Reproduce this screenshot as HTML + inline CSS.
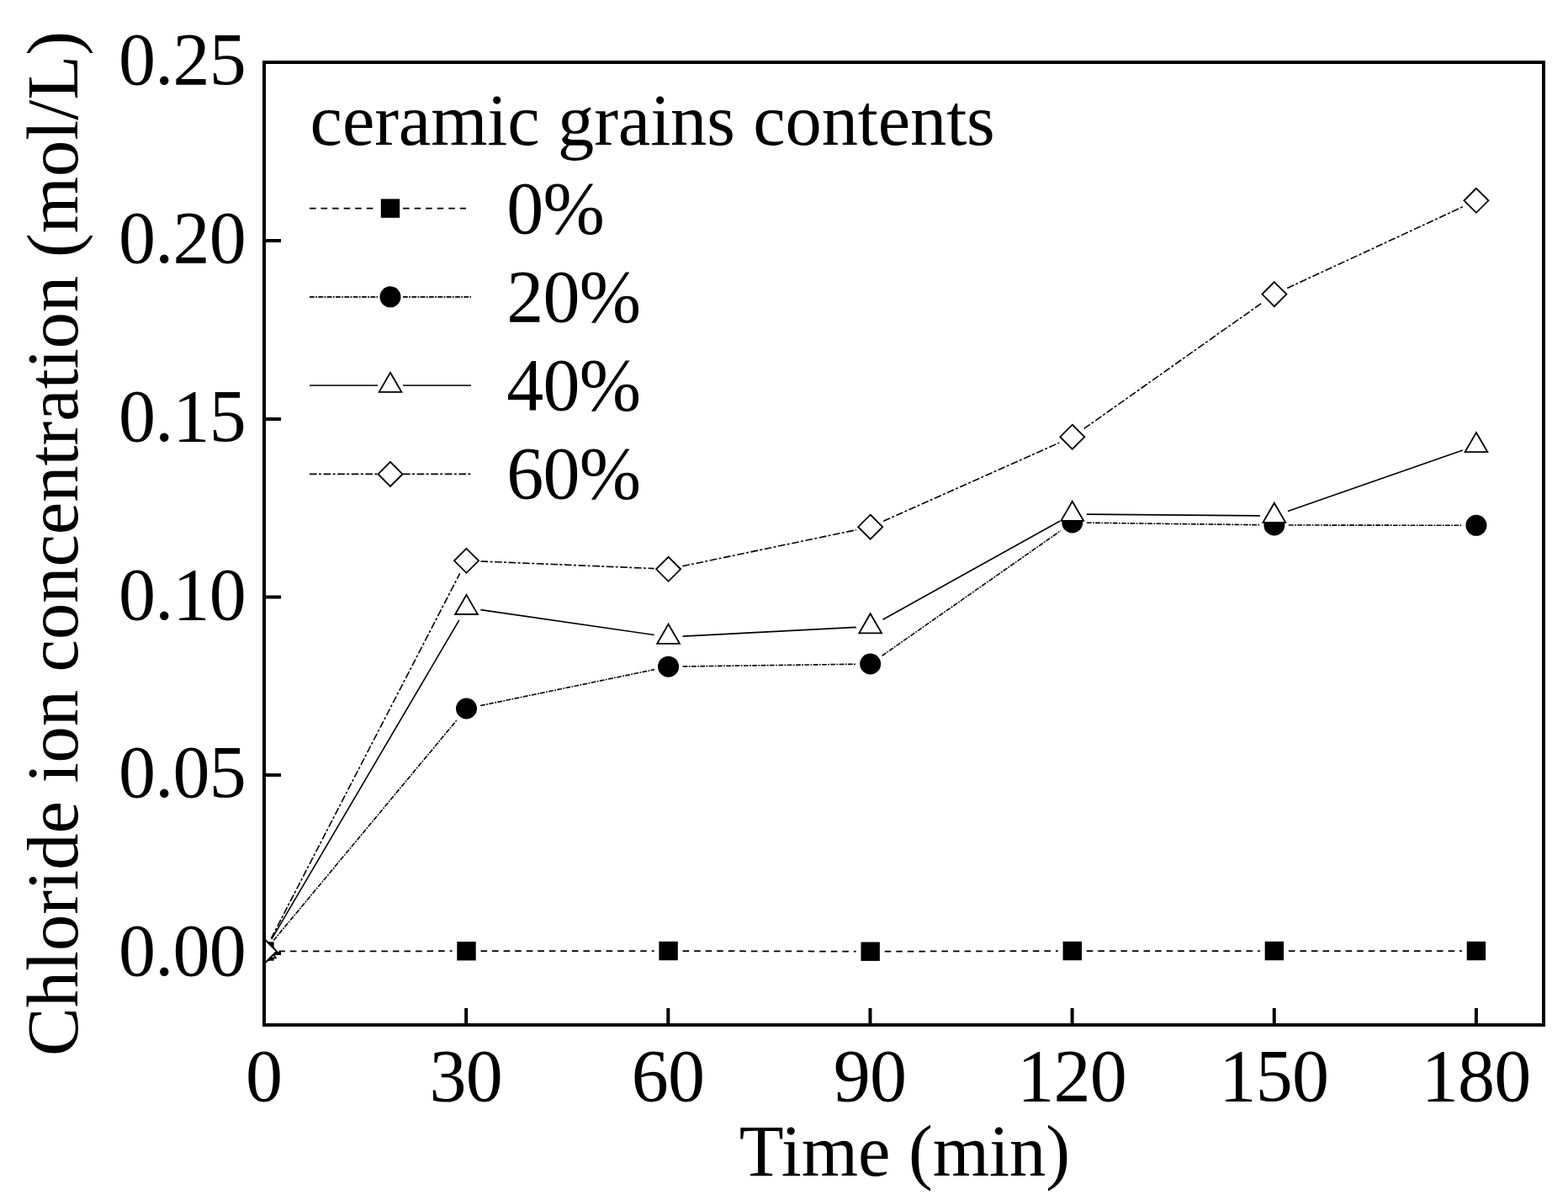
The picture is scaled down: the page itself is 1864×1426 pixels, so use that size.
<!DOCTYPE html>
<html lang="en">
<head>
<meta charset="utf-8">
<title>Chloride ion concentration vs time</title>
<style>
html,body{margin:0;padding:0;background:#fff;}
body{width:1864px;height:1426px;overflow:hidden;}
svg{display:block;}
text{font-family:"Liberation Serif", serif;font-size:86.5px;fill:#000;}
text.d{font-size:88px;letter-spacing:-0.75px;}
</style>
</head>
<body>
<svg width="1864" height="1426" viewBox="0 0 1864 1426">
<rect x="0" y="0" width="1864" height="1426" fill="#fff"/>
<defs><clipPath id="plot"><rect x="316" y="74" width="1519" height="1144"/></clipPath></defs>

<g stroke="#000" stroke-width="4" fill="none">
<line x1="314" y1="286" x2="334" y2="286"/>
<line x1="314" y1="498" x2="334" y2="498"/>
<line x1="314" y1="709.5" x2="334" y2="709.5"/>
<line x1="314" y1="921" x2="334" y2="921"/>
<line x1="314" y1="1133" x2="334" y2="1133"/>
<line x1="554.15" y1="1218" x2="554.15" y2="1198"/>
<line x1="794.30" y1="1218" x2="794.30" y2="1198"/>
<line x1="1034.45" y1="1218" x2="1034.45" y2="1198"/>
<line x1="1274.60" y1="1218" x2="1274.60" y2="1198"/>
<line x1="1514.75" y1="1218" x2="1514.75" y2="1198"/>
<line x1="1754.90" y1="1218" x2="1754.90" y2="1198"/>
</g>
<g clip-path="url(#plot)" stroke="#000" stroke-width="1.6" fill="none">
<line x1="331.40" y1="1130.48" x2="537.49" y2="1130.22" stroke-dasharray="7.6 5.95" stroke-width="1.75"/>
<line x1="571.49" y1="1130.19" x2="777.58" y2="1130.01" stroke-dasharray="7.6 5.95" stroke-width="1.75"/>
<line x1="811.58" y1="1130.05" x2="1017.67" y2="1130.65" stroke-dasharray="7.6 5.95" stroke-width="1.75"/>
<line x1="1051.67" y1="1130.65" x2="1257.76" y2="1130.05" stroke-dasharray="7.6 5.95" stroke-width="1.75"/>
<line x1="1291.76" y1="1130.00" x2="1497.85" y2="1130.00" stroke-dasharray="7.6 5.95" stroke-width="1.75"/>
<line x1="1531.85" y1="1130.00" x2="1737.94" y2="1130.00" stroke-dasharray="7.6 5.95" stroke-width="1.75"/>
<rect x="303.20" y="1119.30" width="22.4" height="22.4" fill="#000" stroke="none"/>
<rect x="543.29" y="1119.00" width="22.4" height="22.4" fill="#000" stroke="none"/>
<rect x="783.38" y="1118.80" width="22.4" height="22.4" fill="#000" stroke="none"/>
<rect x="1023.47" y="1119.50" width="22.4" height="22.4" fill="#000" stroke="none"/>
<rect x="1263.56" y="1118.80" width="22.4" height="22.4" fill="#000" stroke="none"/>
<rect x="1503.65" y="1118.80" width="22.4" height="22.4" fill="#000" stroke="none"/>
<rect x="1743.74" y="1118.80" width="22.4" height="22.4" fill="#000" stroke="none"/>
<line x1="325.27" y1="1117.43" x2="543.62" y2="855.07" stroke-dasharray="5.8 1.37 1.8 1.37"/>
<line x1="571.14" y1="838.55" x2="777.93" y2="795.65" stroke-dasharray="5.8 1.37 1.8 1.37"/>
<line x1="811.58" y1="791.97" x2="1017.67" y2="789.23" stroke-dasharray="5.8 1.37 1.8 1.37"/>
<line x1="1048.60" y1="779.25" x2="1260.83" y2="630.75" stroke-dasharray="5.8 1.37 1.8 1.37"/>
<line x1="1291.76" y1="621.21" x2="1497.85" y2="623.79" stroke-dasharray="5.8 1.37 1.8 1.37"/>
<line x1="1531.85" y1="624.02" x2="1737.94" y2="624.28" stroke-dasharray="5.8 1.37 1.8 1.37"/>
<circle cx="314.40" cy="1130.50" r="12.5" fill="#000" stroke="none"/>
<circle cx="554.49" cy="842.00" r="12.5" fill="#000" stroke="none"/>
<circle cx="794.58" cy="792.20" r="12.5" fill="#000" stroke="none"/>
<circle cx="1034.67" cy="789.00" r="12.5" fill="#000" stroke="none"/>
<circle cx="1274.76" cy="621.00" r="12.5" fill="#000" stroke="none"/>
<circle cx="1514.85" cy="624.00" r="12.5" fill="#000" stroke="none"/>
<circle cx="1754.94" cy="624.30" r="12.5" fill="#000" stroke="none"/>
<line x1="323.02" y1="1115.85" x2="545.87" y2="736.85"/>
<line x1="571.31" y1="724.64" x2="777.76" y2="754.56"/>
<line x1="811.56" y1="756.12" x2="1017.69" y2="745.38"/>
<line x1="1049.53" y1="736.24" x2="1259.90" y2="619.26"/>
<line x1="1291.76" y1="611.14" x2="1497.85" y2="612.86"/>
<line x1="1530.90" y1="607.40" x2="1738.89" y2="534.90"/>
<path d="M314.40 1115.20L327.75 1138.30L301.05 1138.30Z" fill="#fff" stroke-width="1.85"/>
<path d="M554.49 706.90L567.84 730.00L541.14 730.00Z" fill="#fff" stroke-width="1.85"/>
<path d="M794.58 741.70L807.93 764.80L781.23 764.80Z" fill="#fff" stroke-width="1.85"/>
<path d="M1034.67 729.20L1048.02 752.30L1021.32 752.30Z" fill="#fff" stroke-width="1.85"/>
<path d="M1274.76 595.70L1288.11 618.80L1261.41 618.80Z" fill="#fff" stroke-width="1.85"/>
<path d="M1514.85 597.70L1528.20 620.80L1501.50 620.80Z" fill="#fff" stroke-width="1.85"/>
<path d="M1754.94 514.00L1768.29 537.10L1741.59 537.10Z" fill="#fff" stroke-width="1.85"/>
<line x1="322.21" y1="1115.40" x2="546.68" y2="681.40" stroke-dasharray="8.7 2.3 3 2.6"/>
<line x1="571.48" y1="667.01" x2="777.59" y2="675.59" stroke-dasharray="8.7 2.3 3 2.6"/>
<line x1="811.22" y1="672.83" x2="1018.03" y2="629.67" stroke-dasharray="8.7 2.3 3 2.6"/>
<line x1="1050.20" y1="619.28" x2="1259.23" y2="526.12" stroke-dasharray="8.7 2.3 3 2.6"/>
<line x1="1288.65" y1="509.39" x2="1500.96" y2="359.41" stroke-dasharray="8.7 2.3 3 2.6"/>
<line x1="1530.27" y1="342.45" x2="1739.52" y2="245.45" stroke-dasharray="8.7 2.3 3 2.6"/>
<path d="M314.40 1116.00L328.90 1130.50L314.40 1145.00L299.90 1130.50Z" fill="#fff" stroke-width="1.85"/>
<path d="M554.49 651.80L568.99 666.30L554.49 680.80L539.99 666.30Z" fill="#fff" stroke-width="1.85"/>
<path d="M794.58 661.80L809.08 676.30L794.58 690.80L780.08 676.30Z" fill="#fff" stroke-width="1.85"/>
<path d="M1034.67 611.70L1049.17 626.20L1034.67 640.70L1020.17 626.20Z" fill="#fff" stroke-width="1.85"/>
<path d="M1274.76 504.70L1289.26 519.20L1274.76 533.70L1260.26 519.20Z" fill="#fff" stroke-width="1.85"/>
<path d="M1514.85 335.10L1529.35 349.60L1514.85 364.10L1500.35 349.60Z" fill="#fff" stroke-width="1.85"/>
<path d="M1754.94 223.80L1769.44 238.30L1754.94 252.80L1740.44 238.30Z" fill="#fff" stroke-width="1.85"/>
</g>
<rect x="314" y="74" width="1521" height="1144" fill="none" stroke="#000" stroke-width="4"/>
<text class="d" x="292.0" y="100.4" text-anchor="end">0.25</text>
<text class="d" x="292.0" y="312.4" text-anchor="end">0.20</text>
<text class="d" x="292.0" y="524.4" text-anchor="end">0.15</text>
<text class="d" x="292.0" y="735.9" text-anchor="end">0.10</text>
<text class="d" x="292.0" y="947.4" text-anchor="end">0.05</text>
<text class="d" x="292.0" y="1159.4" text-anchor="end">0.00</text>
<text class="d" x="313.60" y="1308.4" text-anchor="middle">0</text>
<text class="d" x="553.75" y="1308.4" text-anchor="middle">30</text>
<text class="d" x="793.90" y="1308.4" text-anchor="middle">60</text>
<text class="d" x="1034.05" y="1308.4" text-anchor="middle">90</text>
<text class="d" x="1274.20" y="1308.4" text-anchor="middle">120</text>
<text class="d" x="1514.35" y="1308.4" text-anchor="middle">150</text>
<text class="d" x="1754.50" y="1308.4" text-anchor="middle">180</text>
<text x="1075.5" y="1397.4" text-anchor="middle">Time (min)</text>
<text transform="translate(92 646) rotate(-90)" text-anchor="middle">Chloride ion concentration (mol/L)</text>
<text x="368.6" y="171.6" style="letter-spacing:-0.11px">ceramic grains contents</text>
<g stroke="#000" stroke-width="1.6" fill="none">
<line x1="368" y1="247.6" x2="449" y2="247.6" stroke-dasharray="7.6 5.95"/>
<line x1="479" y1="247.6" x2="554" y2="247.6" stroke-dasharray="7.6 5.95"/>
<rect x="452.80" y="236.40" width="22.4" height="22.4" fill="#000" stroke="none"/>
<line x1="368" y1="352.85" x2="449" y2="352.85" stroke-dasharray="5.8 1.37 1.8 1.37"/>
<line x1="479" y1="352.85" x2="560" y2="352.85" stroke-dasharray="5.8 1.37 1.8 1.37"/>
<circle cx="464.00" cy="352.85" r="12.5" fill="#000" stroke="none"/>
<line x1="368" y1="458.05" x2="449" y2="458.05"/>
<line x1="479" y1="458.05" x2="560" y2="458.05"/>
<path d="M464.00 442.75L477.35 465.85L450.65 465.85Z" fill="#fff" stroke-width="1.85"/>
<line x1="368" y1="563.4" x2="449" y2="563.4" stroke-dasharray="8.7 2.3 3 2.6"/>
<line x1="479" y1="563.4" x2="560" y2="563.4" stroke-dasharray="8.7 2.3 3 2.6"/>
<path d="M464.00 548.90L478.50 563.40L464.00 577.90L449.50 563.40Z" fill="#fff" stroke-width="1.85"/>
</g>
<text class="d" x="602.3" y="277.3">0%</text>
<text class="d" x="602.3" y="382.3">20%</text>
<text class="d" x="602.3" y="487.3">40%</text>
<text class="d" x="602.3" y="592.3">60%</text>
</svg>
</body>
</html>
